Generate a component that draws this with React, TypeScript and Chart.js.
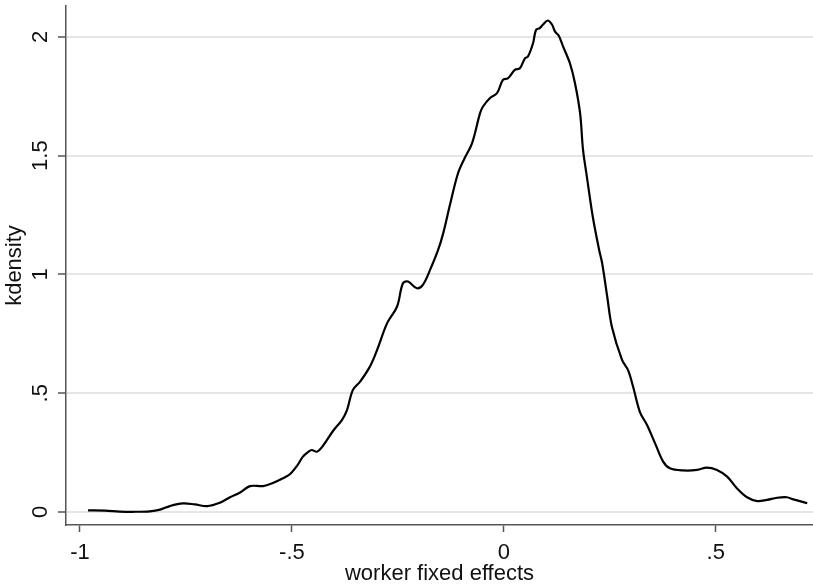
import React, { useEffect, useRef } from "react";
import { Chart, registerables } from "chart.js";

Chart.register(...registerables);

// Kernel density estimate of worker fixed effects
const effectX: number[] = [
  -0.981, -0.941, -0.906, -0.870, -0.835, -0.811, -0.788, -0.757, -0.729, -0.700,
  -0.670, -0.646, -0.622, -0.599, -0.568, -0.545, -0.521, -0.504, -0.488, -0.474,
  -0.460, -0.453, -0.441, -0.427, -0.403, -0.382, -0.370, -0.356, -0.339, -0.316,
  -0.299, -0.275, -0.252, -0.238, -0.226, -0.205, -0.191, -0.174, -0.155, -0.143,
  -0.127, -0.108, -0.092, -0.075, -0.056, -0.049, -0.033, -0.016, -0.002, 0.010,
  0.026, 0.038, 0.050, 0.057, 0.069, 0.076, 0.085, 0.092, 0.104, 0.114,
  0.121, 0.130, 0.140, 0.156, 0.168, 0.180, 0.187, 0.196, 0.210, 0.225,
  0.232, 0.244, 0.255, 0.279, 0.293, 0.305, 0.321, 0.338, 0.357, 0.376,
  0.392, 0.423, 0.456, 0.479, 0.503, 0.527, 0.550, 0.574, 0.598, 0.621,
  0.645, 0.668, 0.683, 0.716,
];
const densityY: number[] = [
  0.007, 0.006, 0.002, 0.001, 0.003, 0.010, 0.025, 0.036, 0.032, 0.025,
  0.039, 0.062, 0.082, 0.109, 0.109, 0.122, 0.142, 0.160, 0.194, 0.233,
  0.255, 0.261, 0.254, 0.278, 0.341, 0.387, 0.429, 0.514, 0.549, 0.612,
  0.682, 0.796, 0.864, 0.963, 0.970, 0.942, 0.956, 1.019, 1.103, 1.173,
  1.293, 1.426, 1.491, 1.552, 1.679, 1.707, 1.742, 1.763, 1.819, 1.826,
  1.861, 1.868, 1.910, 1.917, 1.973, 2.029, 2.037, 2.051, 2.069, 2.051,
  2.022, 2.004, 1.959, 1.889, 1.805, 1.679, 1.524, 1.412, 1.243, 1.103,
  1.048, 0.907, 0.780, 0.640, 0.598, 0.528, 0.422, 0.366, 0.289, 0.212,
  0.184, 0.175, 0.177, 0.187, 0.177, 0.149, 0.100, 0.062, 0.046, 0.051,
  0.060, 0.062, 0.053, 0.037,
];

const xTickValues: number[] = [-1, -0.5, 0, 0.5];
const xTickLabels: string[] = ["-1", "-.5", "0", ".5"];
const yTickValues: number[] = [0, 0.5, 1, 1.5, 2];
const yTickLabels: string[] = ["0", ".5", "1", "1.5", "2"];

const xTitle = "worker fixed effects";
const yTitle = "kdensity";

export default function App() {
  const canvasRef = useRef<HTMLCanvasElement | null>(null);

  useEffect(() => {
    const canvas = canvasRef.current;
    if (!canvas) return;
    const axisColor = "#555555";
    const textColor = "#111111";
    const font = { family: "'Liberation Sans', Arial, sans-serif", size: 22 };
    const points = effectX.map((x, i) => ({ x, y: densityY[i] }));

    const chart = new Chart(canvas, {
      type: "line",
      data: {
        datasets: [
          {
            data: points,
            borderColor: "#000000",
            borderWidth: 2.2,
            pointRadius: 0,
            tension: 0.35,
            fill: false,
          },
        ],
      },
      options: {
        animation: false,
        responsive: false,
        maintainAspectRatio: false,
        layout: { padding: { top: 6, left: 0, right: 0, bottom: 0 } },
        plugins: {
          legend: { display: false },
          tooltip: { enabled: false },
        },
        scales: {
          x: {
            type: "linear",
            min: -1.033,
            max: 0.7296,
            afterBuildTicks: (scale: any) => {
              scale.ticks = xTickValues.map((v) => ({ value: v }));
            },
            afterFit: (scale: any) => {
              scale.height = 63;
              scale.paddingLeft = 0;
              scale.paddingRight = 0;
            },
            ticks: {
              autoSkip: false,
              maxRotation: 0,
              minRotation: 0,
              padding: 7.5,
              color: textColor,
              font,
              callback: (v: any) => {
                const i = xTickValues.indexOf(Number(v));
                return i >= 0 ? xTickLabels[i] : "";
              },
            },
            grid: {
              drawOnChartArea: false,
              drawTicks: true,
              tickLength: 7,
              tickColor: axisColor,
              tickWidth: 1.5,
            },
            border: { display: true, color: axisColor, width: 1.5 },
            title: {
              display: true,
              text: xTitle,
              color: textColor,
              font,
              padding: { top: 0, bottom: 1 },
            },
          },
          y: {
            type: "linear",
            min: -0.0547,
            max: 2.13,
            afterBuildTicks: (scale: any) => {
              scale.ticks = yTickValues.map((v) => ({ value: v }));
            },
            afterFit: (scale: any) => {
              scale.width = 66;
              scale.paddingTop = 0;
              scale.paddingBottom = 0;
            },
            ticks: {
              autoSkip: false,
              minRotation: 90,
              maxRotation: 90,
              crossAlign: "center",
              padding: 1.7,
              color: textColor,
              font,
              callback: (v: any) => {
                const i = yTickValues.indexOf(Number(v));
                return i >= 0 ? yTickLabels[i] : "";
              },
            },
            grid: {
              drawOnChartArea: true,
              color: "#e6e6e6",
              lineWidth: 2,
              drawTicks: true,
              tickLength: 8,
              tickColor: axisColor,
              tickWidth: 1.5,
            },
            border: { display: true, color: axisColor, width: 1.5 },
            title: {
              display: true,
              text: yTitle,
              color: textColor,
              font,
              padding: { top: 1.4, bottom: 0 },
            },
          },
        },
      },
    } as any);

    return () => {
      chart.destroy();
    };
  }, []);

  return (
    <div
      style={{
        position: "fixed",
        left: 0,
        top: 0,
        width: 813,
        height: 588,
        background: "#ffffff",
      }}
    >
      <canvas
        ref={canvasRef}
        width={813}
        height={588}
        style={{ display: "block", width: 813, height: 588 }}
      />
    </div>
  );
}
